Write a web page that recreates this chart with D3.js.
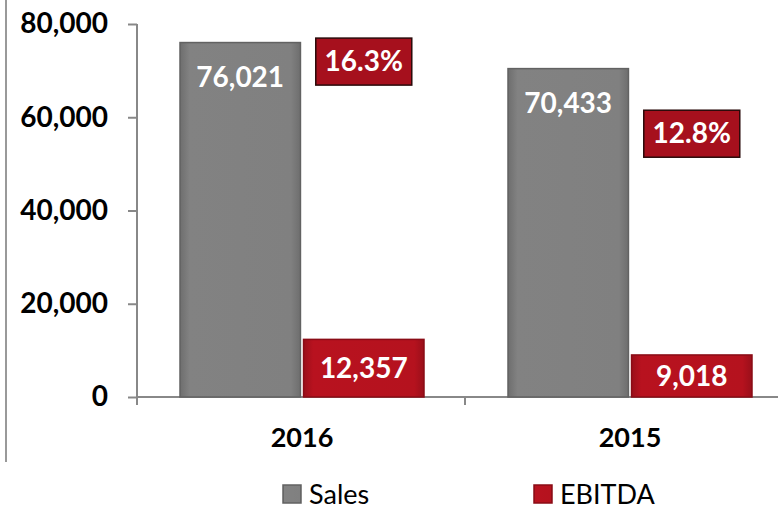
<!DOCTYPE html>
<html><head><meta charset="utf-8">
<script src="https://cdn.jsdelivr.net/npm/d3@7"></script>
<style>body{margin:0;background:#fff}svg{display:block;font-family:Lato,"Open Sans",sans-serif}</style>
</head><body>
<svg id="c" width="778" height="510"></svg>
<script>
const categories = ["2016", "2015"];
const series = ["Sales", "EBITDA"];
const sales = [76021, 70433];
const ebitda = [12357, 9018];
const margin = [16.3, 12.8];
const yTicks = [0, 20000, 40000, 60000, 80000];

const svg = d3.select("#c");
const fmt = d3.format(",");
const x = d3.scaleBand().domain(categories).range([137, 793]).paddingInner(0).paddingOuter(0);
const y = d3.scaleLinear().domain([0, 80000]).range([397, 24]);
const y2 = d3.scaleLinear().domain([0, 18.1]).range([397, 24]);
const sub = d3.scaleBand().domain(series).range([43, 287]).paddingInner(0.025);
const strokes = {Sales: "#626262", EBITDA: "#8a0c16"};

const defs = svg.append("defs");
const gS = defs.append("linearGradient").attr("id", "gS").attr("x1", 0).attr("x2", 1);
gS.append("stop").attr("offset", 0).attr("stop-color", "#6e6e6e");
gS.append("stop").attr("offset", 0.08).attr("stop-color", "#828282");
gS.append("stop").attr("offset", 0.92).attr("stop-color", "#808080");
gS.append("stop").attr("offset", 1).attr("stop-color", "#6e6e6e");
const gE = defs.append("linearGradient").attr("id", "gE").attr("x1", 0).attr("x2", 1);
gE.append("stop").attr("offset", 0).attr("stop-color", "#9a0f1a");
gE.append("stop").attr("offset", 0.08).attr("stop-color", "#b8121f");
gE.append("stop").attr("offset", 0.92).attr("stop-color", "#b5121e");
gE.append("stop").attr("offset", 1).attr("stop-color", "#9a0f1a");
const fills = {Sales: "url(#gS)", EBITDA: "url(#gE)"};

// left frame line
svg.append("line").attr("x1", 6).attr("x2", 6).attr("y1", 0).attr("y2", 462)
  .attr("stroke", "#999").attr("stroke-width", 2);

// y axis
const yAxis = svg.append("g").attr("transform", "translate(137,0)")
  .call(d3.axisLeft(y).tickValues(yTicks).tickSize(9).tickPadding(20).tickFormat(fmt));
yAxis.select(".domain").attr("stroke", "#888").attr("stroke-width", 2).attr("d", "M0,24V405");
yAxis.selectAll(".tick line").attr("stroke", "#888").attr("stroke-width", 2);
yAxis.selectAll(".tick text").attr("font-size", 28).attr("font-weight", 700).attr("fill", "#000")
  .attr("font-family", "Lato, sans-serif");

// x axis
const xAxis = svg.append("g").attr("transform", "translate(0,397)");
xAxis.append("line").attr("x1", 137).attr("x2", 778).attr("y1", 0).attr("y2", 0)
  .attr("stroke", "#888").attr("stroke-width", 2);
xAxis.selectAll("line.t").data(categories.slice(1)).join("line").attr("class", "t")
  .attr("x1", d => x(d)).attr("x2", d => x(d)).attr("y1", 0).attr("y2", 8)
  .attr("stroke", "#888").attr("stroke-width", 2);
xAxis.selectAll("text").data(categories).join("text")
  .attr("x", d => x(d) + x.bandwidth() / 2 + 1).attr("y", 50)
  .attr("text-anchor", "middle").attr("font-size", 27).attr("font-weight", 700).text(d => d);

// bars
const data = [];
categories.forEach((c, i) => {
  data.push({c, s: "Sales", v: sales[i]});
  data.push({c, s: "EBITDA", v: ebitda[i]});
});
svg.selectAll("rect.bar").data(data).join("rect").attr("class", "bar")
  .attr("x", d => x(d.c) + sub(d.s)).attr("width", sub.bandwidth())
  .attr("y", d => y(d.v)).attr("height", d => y(0) - y(d.v))
  .attr("fill", d => fills[d.s]).attr("stroke", d => strokes[d.s]).attr("stroke-width", 1.5);

// value labels
svg.selectAll("text.val").data(data).join("text").attr("class", "val")
  .attr("x", d => x(d.c) + sub(d.s) + sub.bandwidth() / 2)
  .attr("y", d => d.s === "Sales" ? y(d.v) + 34 : (y(d.v) + y(0)) / 2)
  .attr("dy", "0.36em").attr("text-anchor", "middle").attr("fill", "#fff")
  .attr("font-size", 28).attr("font-weight", 700).text(d => fmt(d.v));

// margin labels
const mg = svg.selectAll("g.mg").data(categories).join("g").attr("class", "mg")
  .attr("transform", (d, i) => `translate(${x(d) + sub("EBITDA") + sub.bandwidth() / 2},${y2(margin[i])})`);
mg.append("rect").attr("x", -48).attr("y", -23).attr("width", 96).attr("height", 47)
  .attr("fill", "#a6101d").attr("stroke", "#2a0a0a").attr("stroke-width", 1.5);
mg.append("text").attr("text-anchor", "middle").attr("dy", "0.36em").attr("fill", "#fff")
  .attr("font-size", 28).attr("font-weight", 700).text((d, i) => margin[i].toFixed(1) + "%");

// legend
const legX = [283, 534];
const lg = svg.selectAll("g.lg").data(series).join("g").attr("class", "lg")
  .attr("transform", (d, i) => `translate(${legX[i]},485)`);
lg.append("rect").attr("width", 18).attr("height", 18)
  .attr("fill", d => fills[d]).attr("stroke", d => strokes[d]).attr("stroke-width", 1.5);
lg.append("text").attr("x", 26).attr("y", 9).attr("dy", "0.36em")
  .attr("font-size", 27).attr("fill", "#000").text(d => d);
</script>
</body></html>
